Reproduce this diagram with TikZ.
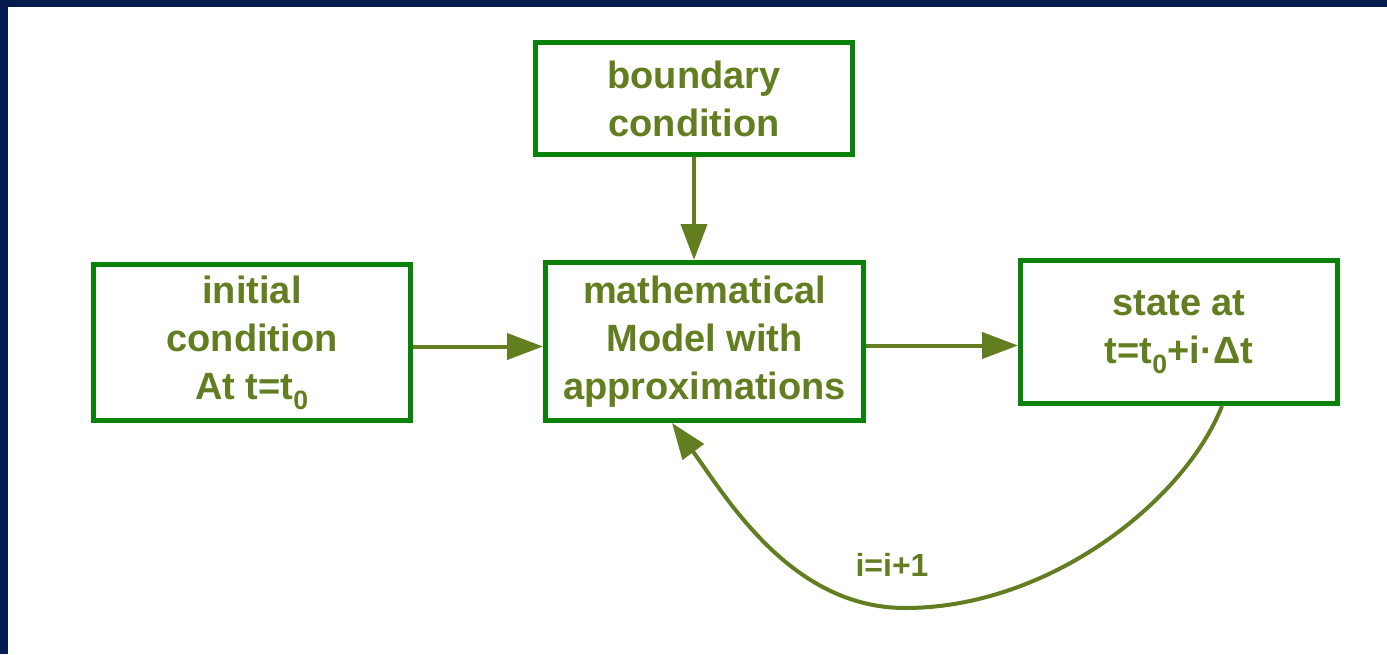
\documentclass[tikz,border=0pt]{standalone}
\usepackage{fontspec}
\setmainfont{Liberation Sans}
\usetikzlibrary{arrows.meta,calc}
\definecolor{navy}{RGB}{6,28,78}
\definecolor{boxgreen}{RGB}{10,130,10}
\definecolor{olive}{RGB}{98,126,32}
\tikzset{
  blockbox/.style={draw=boxgreen, line width=5pt, fill=white, align=center,
    text=olive, font=\fontsize{38}{48}\selectfont\bfseries, inner sep=0pt},
  flow/.style={draw=olive, line width=4pt, -{Triangle[length=36pt,width=26pt]}},
  lbl/.style={text=olive, font=\fontsize{32}{38}\selectfont\bfseries}
}
\begin{document}
\begin{tikzpicture}[x=1pt,y=-1pt]
\useasboundingbox (0,0) rectangle (1387,654);
\fill[navy] (0,0) rectangle (1387,654);
\fill[white] (8,7) rectangle (1387,654);
\node[blockbox, minimum width=317pt, minimum height=112pt] (boundary) at (694,98.5) {boundary\\condition};
\node[blockbox, minimum width=317pt, minimum height=156pt] (initial) at (252,342.5) {initial\\condition\\At t=t\textsubscript{0}};
\node[blockbox, minimum width=318pt, minimum height=158pt] (math) at (704.5,341.5) {mathematical\\Model with\\approximations};
\node[blockbox, minimum width=317pt, minimum height=143pt] (state) at (1179,332) {state at\\t=t\textsubscript{0}+i·Δt};
\draw[flow] (boundary.south) -- (boundary.south |- math.north);
\draw[flow] ([yshift=-4pt]initial.east) -- ([yshift=-4pt]initial.east -| math.west);
\draw[flow] ([yshift=-4pt]math.east) -- ([yshift=-4pt]math.east -| state.west);
\coordinate (bottom) at (905,608);
\draw[flow] ([xshift=43pt]state.south) .. controls +(-37,94) and (1050,608) .. (bottom)
  .. controls (790,608) and (725,495) .. ([xshift=-32.5pt]math.south);
\node[lbl] (inc) at (892,565) {i=i+1};
\end{tikzpicture}
\end{document}
